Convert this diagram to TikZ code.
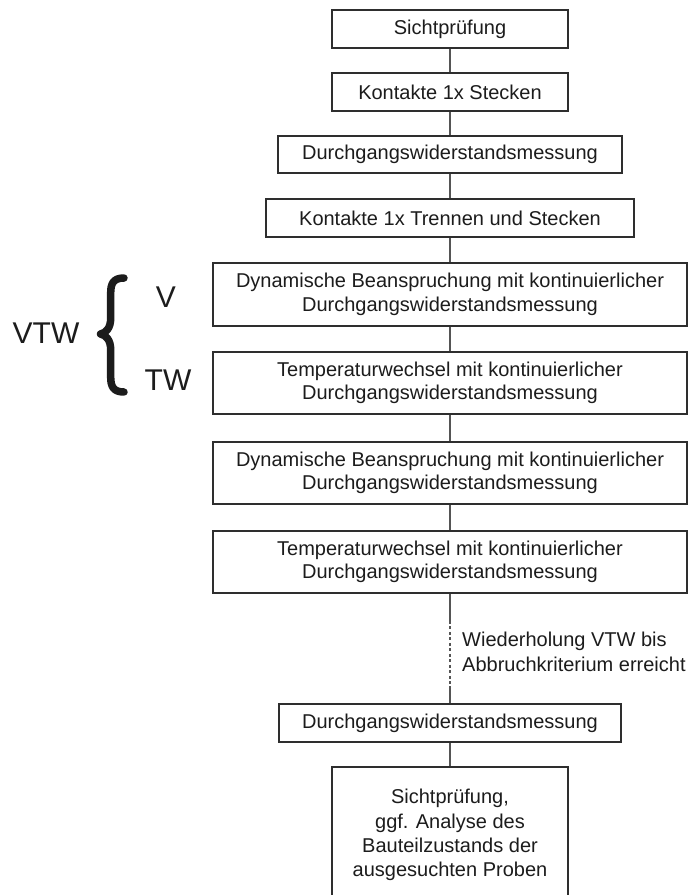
\documentclass[tikz,border=0pt]{standalone}
\usepackage{fontspec}
\setmainfont{Liberation Sans}
\usetikzlibrary{calc}
\definecolor{ink}{HTML}{1C1C1C}
\definecolor{frame}{HTML}{2E2E2E}
\definecolor{wire}{HTML}{555555}
\begin{document}
\begin{tikzpicture}[x=1bp,y=-1bp,
  stepbox/.style={draw=frame, line width=1.7bp, fill=white, text=ink,
    align=center, inner sep=0pt,
    font=\fontsize{20bp}{23.5bp}\selectfont},
  flow/.style={draw=wire, line width=1.1bp},
  biglabel/.style={text=ink, inner sep=0pt, font=\fontsize{30bp}{34bp}\selectfont}]

% page frame (also clips the cut-off last box)
\clip (0,0) rectangle (693,895);
\fill[white] (0,0) rectangle (693,895);

% process steps
\node[stepbox, minimum width=236bp, minimum height=38bp] (s1) at (450,29) {Sichtprüfung};
\node[stepbox, minimum width=236bp, minimum height=38bp] (s2) at (450,92) {Kontakte 1x Stecken};
\node[stepbox, minimum width=344bp, minimum height=37bp] (s3) at (450,154.5) {Durchgangswiderstandsmessung};
\node[stepbox, minimum width=368bp, minimum height=38bp] (s4) at (450,218) {Kontakte 1x Trennen und Stecken};
\node[stepbox, minimum width=474bp, minimum height=63bp] (s5) at (450,294.5)
  {Dynamische Beanspruchung mit kontinuierlicher\\Durchgangswiderstandsmessung};
\node[stepbox, minimum width=474bp, minimum height=62bp] (s6) at (450,383)
  {Temperaturwechsel mit kontinuierlicher\\Durchgangswiderstandsmessung};
\node[stepbox, minimum width=474bp, minimum height=62bp] (s7) at (450,473)
  {Dynamische Beanspruchung mit kontinuierlicher\\Durchgangswiderstandsmessung};
\node[stepbox, minimum width=474bp, minimum height=62bp] (s8) at (450,562)
  {Temperaturwechsel mit kontinuierlicher\\Durchgangswiderstandsmessung};
\node[stepbox, minimum width=342bp, minimum height=38bp] (s9) at (450,723) {Durchgangswiderstandsmessung};
\node[stepbox, minimum width=236bp, minimum height=136bp,
  font=\fontsize{20bp}{24.3bp}\selectfont] (s10) at (450,835)
  {Sichtprüfung,\\ggf. Analyse des\\Bauteilzustands der\\ausgesuchten Proben};

% connectors
\draw[flow] (s1) -- (s2);
\draw[flow] (s2) -- (s3);
\draw[flow] (s3) -- (s4);
\draw[flow] (s4) -- (s5);
\draw[flow] (s5) -- (s6);
\draw[flow] (s6) -- (s7);
\draw[flow] (s7) -- (s8);
\draw[flow] (s9) -- (s10);

% repeat loop: solid ends, dashed middle
\coordinate (r1) at ($(s8.south)+(0,27)$);
\coordinate (r2) at ($(s9.north)+(0,-17)$);
\draw[flow] (s8.south) -- (r1);
\draw[flow, dash pattern=on 3bp off 2.5bp] (r1) -- (r2);
\draw[flow] (r2) -- (s9.north);
\node[anchor=west, align=left, text=ink, inner sep=0pt,
  font=\fontsize{20bp}{24.5bp}\selectfont] (rep) at (462,652)
  {Wiederholung VTW bis\\Abbruchkriterium erreicht};

% VTW grouping brace
\node[biglabel] (vtw) at (46,333) {VTW};
\node[biglabel] (lv) at (166,297) {V};
\node[biglabel] (ltw) at (168,380) {TW};
\draw[ink, line width=7.5bp, line cap=round, line join=round]
  (124,278) .. controls (113,278) and (110.7,284) .. (110.7,293)
  -- (110.7,318)
  .. controls (110.7,328) and (106,333) .. (100.5,334)
  .. controls (106,335) and (110.7,340) .. (110.7,350)
  -- (110.7,377)
  .. controls (110.7,386) and (113,392) .. (124,392);
\end{tikzpicture}
\end{document}
